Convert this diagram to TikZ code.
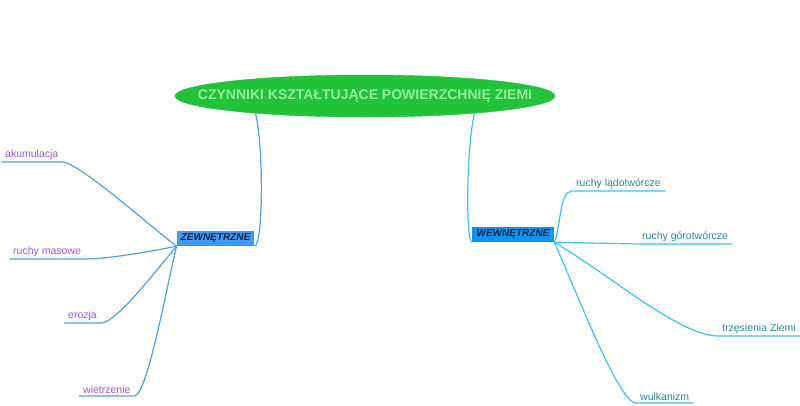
\documentclass[tikz,border=0pt]{standalone}
\usepackage{fontspec}
\setmainfont{Liberation Sans}
\usetikzlibrary{shapes.geometric}
\definecolor{titlefill}{HTML}{22C23A}
\definecolor{titletext}{HTML}{95EE95}
\definecolor{zewfill}{HTML}{3D9BF5}
\definecolor{wewfill}{HTML}{0B94F0}
\definecolor{boxtext}{HTML}{0A2452}
\definecolor{lline}{HTML}{4FA3E6}
\definecolor{rline}{HTML}{3EC4EE}
\definecolor{ltext}{HTML}{A656CC}
\definecolor{rtext}{HTML}{2A8C9C}
\tikzset{
  titlenode/.style={ellipse, fill=titlefill, draw=titlefill, minimum width=380pt, minimum height=42pt, inner sep=0pt,
    text=titletext, font=\fontsize{14}{16}\selectfont\bfseries},
  catbox/.style={rectangle, inner xsep=4pt, inner ysep=0pt, minimum height=15pt, text=boxtext,
    font=\fontsize{10}{12}\selectfont\bfseries\itshape},
  leaf/.style={anchor=south west, inner xsep=4pt, inner ysep=2pt, font=\fontsize{10.5}{12}\selectfont},
  lleaf/.style={leaf, text=ltext},
  rleaf/.style={leaf, text=rtext},
  lconn/.style={draw=lline, line width=1.2pt},
  rconn/.style={draw=rline, line width=1.2pt},
}
\begin{document}
\begin{tikzpicture}[x=1pt,y=-1pt]
\useasboundingbox (0,0) rectangle (800,405);
\fill[white] (0,0) rectangle (800,405);
\node[titlenode] (title) at (365,96) {\makebox[0pt]{CZYNNIKI KSZTAŁTUJĄCE POWIERZCHNIĘ ZIEMI}};
\node[catbox, fill=zewfill, minimum width=77pt] (zew) at (215.5,238.5) {ZEWNĘTRZNE};
\node[catbox, fill=wewfill, minimum width=82pt] (wew) at (513,234.5) {WEWNĘTRZNE};
% left leaves
\node[lleaf] (aku) at (1,162) {akumulacja};
\node[lleaf] (mas) at (9,259) {ruchy masowe};
\node[lleaf] (ero) at (64,323) {erozja};
\node[lleaf] (wie) at (79,396) {wietrzenie};
% right leaves
\node[rleaf] (lad) at (572,191) {ruchy lądotwórcze};
\node[rleaf] (gor) at (638,244) {ruchy górotwórcze};
\node[rleaf] (trz) at (718,336) {trzęsienia Ziemi};
\node[rleaf] (wul) at (636,403) {wulkanizm};
% trunks
\draw[lconn] (title.189) .. controls (264,150) and (263,246) .. (zew.south east);
\draw[rconn] (title.351) .. controls (466,150) and (466,242) .. (wew.south west);
% left connectors
\draw[lconn] (aku.south west) -- (aku.south east) .. controls (78,162) and (150,226) .. (zew.south west);
\draw[lconn] (mas.south west) -- (mas.south east) .. controls (110,259) and (158,250) .. (zew.south west);
\draw[lconn] (ero.south west) -- (ero.south east) .. controls (116,323) and (155,272) .. (zew.south west);
\draw[lconn] (wie.south west) -- (wie.south east) .. controls (148,393) and (168,280) .. (zew.south west);
% right connectors
\draw[rconn] (wew.south east) .. controls (561,228) and (559,191) .. (lad.south west) -- (lad.south east);
\draw[rconn] (wew.south east) -- (gor.south west) -- (gor.south east);
\draw[rconn] (wew.south east) .. controls (610,275) and (680,336) .. (trz.south west) -- (trz.south east);
\draw[rconn] (wew.south east) .. controls (572,280) and (618,403) .. (wul.south west) -- (wul.south east);
\end{tikzpicture}
\end{document}
